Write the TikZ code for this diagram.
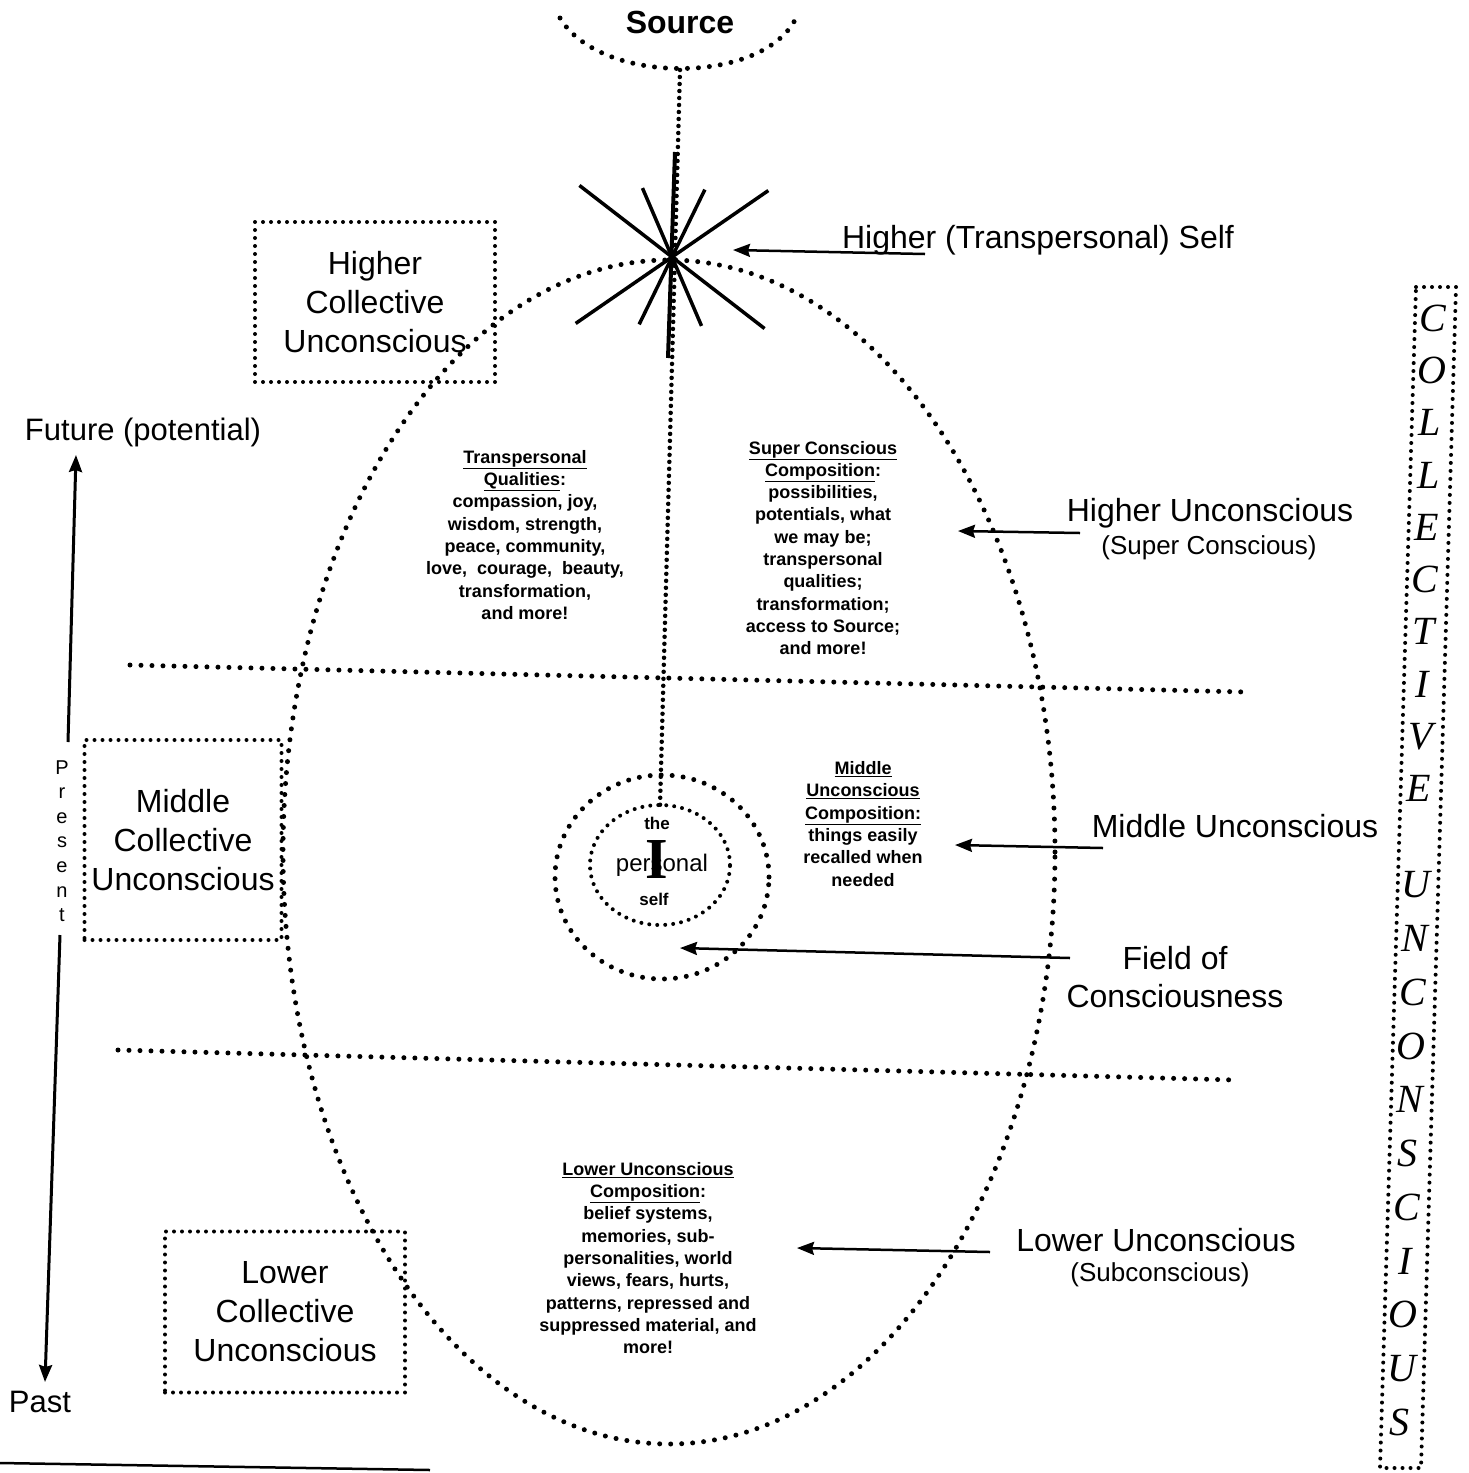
\documentclass[tikz,border=0pt]{standalone}
\usepackage{fontspec}
\setmainfont{Liberation Sans}
\newfontfamily\collfont{Liberation Serif}
\usetikzlibrary{arrows.meta}

\tikzset{
  dotbig/.style={line width=5pt, line cap=round, dash pattern=on 0pt off 11pt},
  dotsmall/.style={line width=4pt, line cap=round, dash pattern=on 0pt off 8pt},
  cbox/.style={draw, dotsmall, align=center, inner sep=0pt,
               font=\fontsize{32}{39}\selectfont},
  bigtxt/.style={font=\fontsize{32}{38}\selectfont, inner sep=0pt, align=center},
  midtxt/.style={font=\fontsize{26}{30}\selectfont, inner sep=0pt},
  smalltxt/.style={font=\fontsize{18}{22.3}\selectfont\bfseries, inner sep=0pt,
                   align=center},
  perstxt/.style={font=\fontsize{24}{24}\selectfont, inner sep=0pt},
  collet/.style={font=\collfont\itshape\fontsize{40}{40}\selectfont, inner sep=0pt},
}

\begin{document}
\begin{tikzpicture}[x=1pt,y=-1pt,>={Stealth[length=17pt,width=13pt,inset=2pt]}]

  \useasboundingbox (0,0) rectangle (1468,1473);

  \begin{scope}   % zdroj a osa

    \node[font=\fontsize{32}{32}\selectfont\bfseries, inner sep=0pt] (src) at (680,22) {Source};
    \coordinate (SA) at (560,18);
    \coordinate (SB) at (795,20);
    \coordinate (SM) at (680,70);
    \draw[dotbig] (SA) .. controls (600,85) and (760,85) .. (SB);

    \coordinate (star) at (672,257);
    \coordinate (ptop) at (660,806);
    \draw[line width=4.5pt, line cap=round, dash pattern=on 0pt off 7pt] (SM)--(ptop);

    \foreach \ang/\len in {37.7/117, 66.8/75, 116/75, 145.4/117}
    {
      \draw[line width=3.5pt] (star) ++(\ang:\len) -- ++(\ang+180:2*\len);
    }
    \draw[line width=4pt] (675,152)--(668,358);

  \end{scope}

  \begin{scope}   % vejce a vrstvy

    \draw[dotbig] (669,852) ellipse [x radius=386pt, y radius=592pt];

    \draw[dotbig] (130,665)--(1245,692);
    \draw[dotbig] (118,1050)--(1235,1080);

    \draw[dotbig] (662,877) ellipse [x radius=107pt, y radius=102pt];
    \draw[dotsmall] (660,865) ellipse [x radius=70pt, y radius=60pt];

    \node[font=\collfont\bfseries\fontsize{58}{58}\selectfont, inner sep=0pt] (bigI) at (657,859) {I};
    \node[perstxt] (pers) at (662,865) {personal};
    \node[font=\fontsize{17}{17}\selectfont\bfseries, inner sep=0pt] (the) at (657,823) {the};
    \node[font=\fontsize{17}{17}\selectfont\bfseries, inner sep=0pt] (self) at (654,899) {self};

    \node[smalltxt] (tq) at (525,535) {\underline{Transpersonal}\\ \underline{Qualities}:\\
      compassion, joy,\\ wisdom, strength,\\ peace, community,\\
      love,\ \ courage,\ \ beauty,\\ transformation,\\ and more!};
    \node[smalltxt] (scc) at (823,548) {\underline{Super Conscious}\\ \underline{Composition}:\\
      possibilities,\\ potentials, what\\ we may be;\\ transpersonal\\ qualities;\\
      transformation;\\ access to Source;\\ and more!};
    \node[smalltxt] (muc) at (863,824) {\underline{Middle}\\ \underline{Unconscious}\\
      \underline{Composition:}\\ things easily\\ recalled when\\ needed};
    \node[smalltxt] (luc) at (648,1258) {\underline{Lower Unconscious}\\ \underline{Composition}:\\
      belief systems,\\ memories, sub-\\ personalities, world\\ views, fears, hurts,\\
      patterns, repressed and\\ suppressed material, and\\ more!};

  \end{scope}

  \begin{scope}   % kolektivni nevedomi vlevo

    \node[cbox, minimum width=240pt, minimum height=160pt] (hcu) at (375,302)
         {Higher\\Collective\\Unconscious};
    \node[cbox, minimum width=197pt, minimum height=200pt] (mcu) at (183,840)
         {Middle\\Collective\\Unconscious};
    \node[cbox, minimum width=240pt, minimum height=161pt] (lcu) at (285,1312)
         {Lower\\Collective\\Unconscious};

    \node[font=\fontsize{31}{31}\selectfont, inner sep=0pt] (fut) at (143,432) {Future (potential)};
    \node[font=\fontsize{31}{31}\selectfont, inner sep=0pt] (past) at (40,1402) {Past};
    \node[font=\fontsize{20}{24.6}\selectfont, align=center, inner sep=0pt] (pres) at (62,841)
         {P\\r\\e\\s\\e\\n\\t};
    \coordinate (F1) at (68,742);
    \coordinate (F2) at (76,455);
    \coordinate (P1) at (60,935);
    \coordinate (P2) at (45,1382);
    \draw[line width=3pt, ->] (F1)--(F2);
    \draw[line width=3pt, ->] (P1)--(P2);

  \end{scope}

  \begin{scope}   % popisky vpravo

    \node[bigtxt] (hself) at (1038,240) {Higher (Transpersonal) Self};
    \coordinate (H1) at (925,254);
    \coordinate (H2) at (733,250);
    \draw[line width=2.5pt, ->] (H1)--(H2);

    \node[bigtxt] (hu) at (1210,513) {Higher Unconscious};
    \node[midtxt] (sup) at (1209,548) {(Super Conscious)};
    \coordinate (U1) at (1080,533);
    \coordinate (U2) at (958,531);
    \draw[line width=2.5pt, ->] (U1)--(U2);

    \node[bigtxt] (mu) at (1235,826) {Middle Unconscious};
    \coordinate (M1) at (1103,848);
    \coordinate (M2) at (955,845);
    \draw[line width=2.5pt, ->] (M1)--(M2);

    \node[bigtxt] (foc) at (1175,977) {Field of\\Consciousness};
    \coordinate (C1) at (1070,958);
    \coordinate (C2) at (680,948);
    \draw[line width=2.5pt, ->] (C1)--(C2);

    \node[bigtxt] (lu) at (1156,1240) {Lower Unconscious};
    \node[midtxt] (sub) at (1160,1275) {(Subconscious)};
    \coordinate (L1) at (990,1252);
    \coordinate (L2) at (797,1248);
    \draw[line width=2.5pt, ->] (L1)--(L2);

  \end{scope}

  \begin{scope}   % svisly ramecek

    \draw[dotsmall] (1416,287)--(1456,287)--(1421,1468)--(1380,1468)--cycle;
    \foreach \ch [count=\i] in {C,O,L,L,E,C,T,I,V,E}
    {
      \node[collet] (cl\i) at ({1433-0.03*(\i-1)*52.3},{318+(\i-1)*52.3}) {\ch};
    }
    \foreach \ch [count=\i] in {U,N,C,O,N,S,C,I,O,U,S}
    {
      \node[collet] (cu\i) at ({1433-0.03*(567+(\i-1)*53.7)},{885+(\i-1)*53.7}) {\ch};
    }

  \end{scope}

  \draw[line width=2.5pt] (0,1463)--(430,1470);

\end{tikzpicture}
\end{document}
